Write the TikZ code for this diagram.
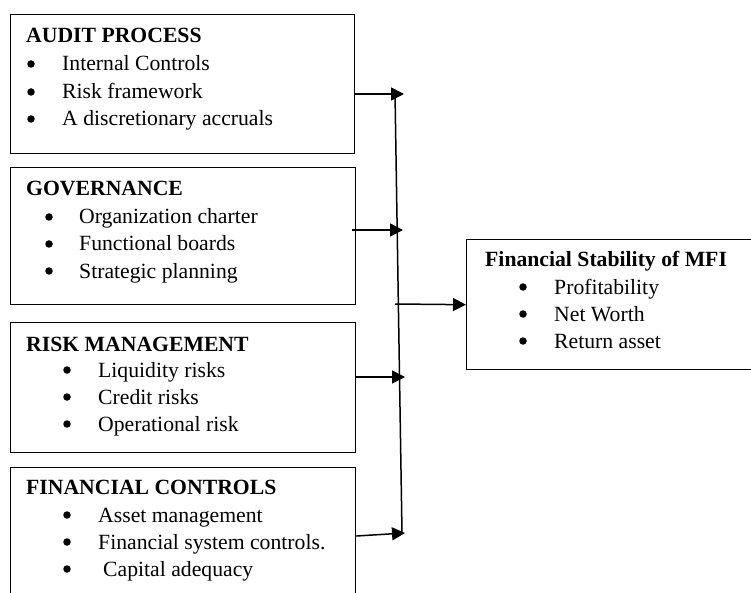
\documentclass[tikz,border=0pt]{standalone}
\usepackage{fontspec}
\setmainfont{Liberation Serif}
\usetikzlibrary{arrows.meta}
\begin{document}
\begin{tikzpicture}[x=1pt,y=-1pt,
  box/.style={draw, line width=1.4pt, rectangle, inner sep=0pt, anchor=north west},
  ttl/.style={anchor=base west, inner sep=0pt, font=\fontsize{21.7}{26}\selectfont\bfseries},
  itm/.style={anchor=base west, inner sep=0pt, font=\fontsize{21.7}{26}\selectfont},
  bdot/.style={circle, fill=black, inner sep=0pt, minimum size=7.5pt},
  conn/.style={line width=1.5pt, -{Triangle[length=13pt,width=13pt]}},
  ln/.style={line width=1.5pt}]
\useasboundingbox (0,0) rectangle (751,593);
\clip (0,0) rectangle (751,593);
% boxes
\node[box, minimum width=344pt, minimum height=139pt] (audit) at (10,14) {};
\node[box, minimum width=345pt, minimum height=137pt] (gov) at (10,167) {};
\node[box, minimum width=345pt, minimum height=130pt] (risk) at (10,322) {};
\node[box, minimum width=345pt, minimum height=150pt] (fin) at (10,467) {};
\node[box, minimum width=300pt, minimum height=130pt] (mfi) at (466,239) {};
% audit text
\node[ttl] (t1) at (26,43) {AUDIT PROCESS};
\node[bdot] (b11) at (31,64) {};
\node[itm] (i11) at (62,71) {Internal Controls};
\node[bdot] (b12) at (31,92) {};
\node[itm] (i12) at (62,99) {Risk framework};
\node[bdot] (b13) at (31,119) {};
\node[itm] (i13) at (62,126) {A discretionary accruals};
% governance text
\node[ttl] (t2) at (26,196) {GOVERNANCE};
\node[bdot] (b21) at (49,217) {};
\node[itm] (i21) at (79,224) {Organization charter};
\node[bdot] (b22) at (49,244) {};
\node[itm] (i22) at (79,251) {Functional boards};
\node[bdot] (b23) at (49,271) {};
\node[itm] (i23) at (79,278) {Strategic planning};
% risk text
\node[ttl] (t3) at (26,351) {RISK MANAGEMENT};
\node[bdot] (b31) at (67,370) {};
\node[itm] (i31) at (98,377) {Liquidity risks};
\node[bdot] (b32) at (67,397) {};
\node[itm] (i32) at (98,404) {Credit risks};
\node[bdot] (b33) at (67,424) {};
\node[itm] (i33) at (98,431) {Operational risk};
% financial controls text
\node[ttl] (t4) at (26,494) {FINANCIAL CONTROLS};
\node[bdot] (b41) at (67,515) {};
\node[itm] (i41) at (98,522) {Asset management};
\node[bdot] (b42) at (67,542) {};
\node[itm] (i42) at (98,549) {Financial system controls.};
\node[bdot] (b43) at (67,569) {};
\node[itm] (i43) at (103,576) {Capital adequacy};
% mfi text
\node[ttl] (t5) at (485,266) {Financial Stability of MFI};
\node[bdot] (b51) at (523,287) {};
\node[itm] (i51) at (554,294) {Profitability};
\node[bdot] (b52) at (523,314) {};
\node[itm] (i52) at (554,321) {Net Worth};
\node[bdot] (b53) at (523,341) {};
\node[itm] (i53) at (554,348) {Return asset};
% connectors
\coordinate (vt) at (395,93);
\coordinate (vb) at (402,533);
\coordinate (vm) at (395,304);
\coordinate (e1) at (404,94);
\coordinate (e2) at (403,230);
\coordinate (e3) at (405,377);
\coordinate (e4) at (405,533);
\coordinate (s2) at (352,230);
\draw[ln] (vt) -- (vb);
\draw[conn] (audit.east |- e1) -- (e1);
\draw[conn] (s2) -- (e2);
\draw[conn] (risk.east |- e3) -- (e3);
\draw[conn] (fin.east |- 0,536) -- (e4);
\draw[conn] (vm) -- (mfi.west);
\end{tikzpicture}
\end{document}
